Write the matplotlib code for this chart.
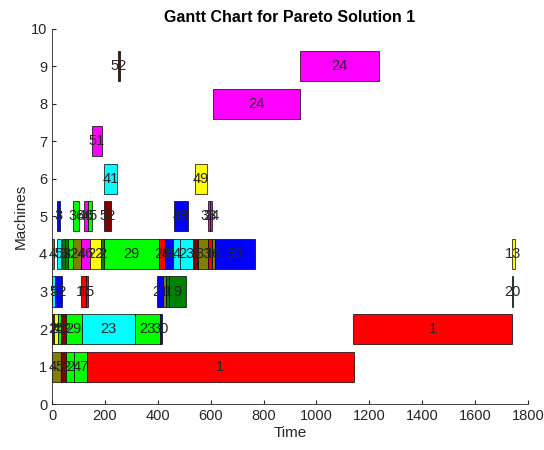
import matplotlib.pyplot as plt

plt.rcParams["font.family"] = ["Liberation Sans", "DejaVu Sans"]

# MATLAB-style colour codes
cmap = {
    "r": (1, 0, 0), "g": (0, 1, 0), "b": (0, 0, 1), "c": (0, 1, 1),
    "m": (1, 0, 1), "y": (1, 1, 0), "dr": (0.5, 0, 0),
    "ol": (0.5, 0.5, 0), "dg": (0, 0.5, 0),
}

# number of operations on each machine 1..9
ops_per_machine = [5, 9, 9, 20, 8, 2, 1, 1, 2]
machines = [m + 1 for m, n in enumerate(ops_per_machine) for _ in range(n)]

starts = [0, 34, 52, 84, 131,
          0, 8, 24, 34, 52, 112, 314, 408, 1140,
          0, 13, 109, 128, 398, 419, 431, 444, 1740,
          0, 18, 37, 50, 59, 81, 110, 144, 185, 198, 406, 427, 459, 484, 534, 553, 591, 604, 616, 1739,
          18, 81, 122, 135, 197, 462, 590, 598,
          198, 541,
          150,
          608,
          248, 936]
ends = [34, 52, 84, 131, 1141,
        8, 24, 34, 52, 112, 314, 408, 415, 1738,
        13, 37, 128, 137, 419, 431, 444, 507, 1744,
        7, 33, 50, 59, 81, 110, 144, 185, 198, 406, 427, 459, 484, 534, 553, 591, 604, 616, 768, 1750,
        30, 103, 135, 150, 222, 513, 598, 606,
        247, 585,
        190,
        936,
        257, 1238]
jobs = ["45", "52", "2", "47", "1",
        "2", "24", "4", "52", "29", "23", "23", "30", "1",
        "5", "12", "11", "15", "21", "1", "1", "9", "20",
        "4", "5", "3", "2", "32", "24", "46", "22", "2", "29", "28", "41", "4", "23", "3", "33", "1", "16", "30", "13",
        "3", "36", "46", "45", "52", "48", "33", "24",
        "41", "49",
        "51",
        "24",
        "52", "24"]
colors = ["ol", "dr", "g", "g", "r",
          "dr", "y", "g", "dr", "g", "c", "g", "b", "r",
          "c", "b", "r", "r", "b", "ol", "dg", "dg", "dg",
          "ol", "c", "dg", "dg", "g", "ol", "m", "y", "dg", "g", "r", "b", "c", "c", "dr", "ol", "r", "ol", "b", "y",
          "b", "g", "m", "g", "dr", "b", "m", "m",
          "c", "y",
          "m",
          "m",
          "dr", "m"]

fig = plt.figure(figsize=(5.44, 4.5), dpi=100)
ax = fig.add_axes([0.0956, 0.1022, 0.875, 0.8334])

txt = "#262626"
for m, s, e, j, c in zip(machines, starts, ends, jobs, colors):
    ax.barh(m, e - s, left=s, height=0.8, color=cmap[c],
            edgecolor="black", linewidth=0.5)
    ax.text((s + e) / 2, m, j, ha="center", va="center",
            fontsize=10.5, color=txt)

ax.set_xlim(0, 1800)
ax.set_ylim(0, 10)
ax.set_xticks(range(0, 1801, 200))
ax.set_yticks(range(0, 11))
ax.tick_params(direction="in", length=3, labelsize=10.5, colors=txt)
for sp in ["top", "right"]:
    ax.spines[sp].set_visible(False)
for sp in ["left", "bottom"]:
    ax.spines[sp].set_color(txt)
    ax.spines[sp].set_linewidth(0.6)

ax.set_title("Gantt Chart for Pareto Solution 1", fontsize=11.5,
             fontweight="bold", color="black", pad=5)
ax.set_xlabel("Time", fontsize=11, color=txt, labelpad=2)
ax.set_ylabel("Machines", fontsize=11, color=txt, labelpad=2)

plt.savefig("out.png", dpi=100)
